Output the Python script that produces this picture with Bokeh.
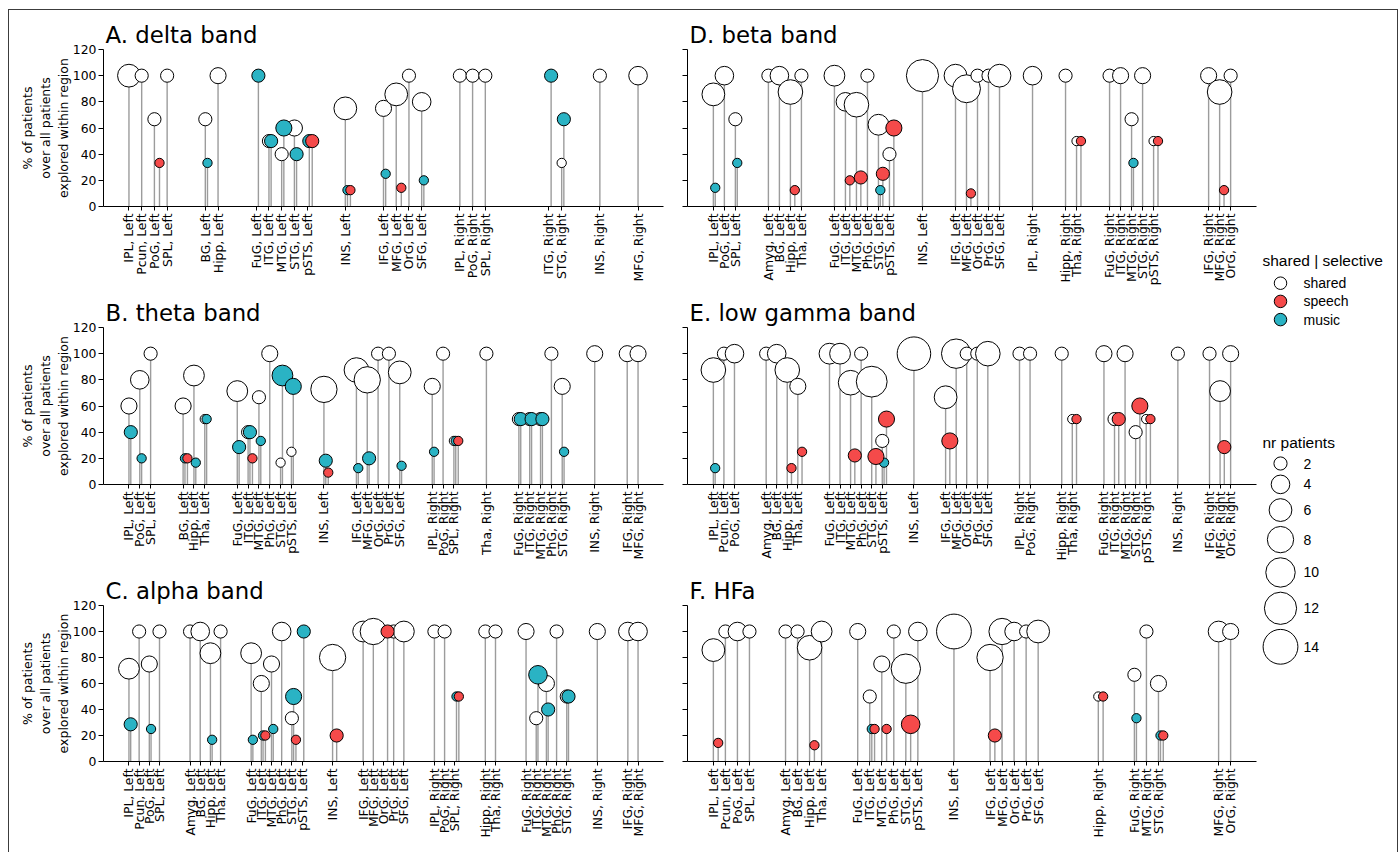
import math
from bokeh.plotting import figure
from bokeh.layouts import row, column
from bokeh.models import FixedTicker, Range1d, ColumnDataSource
from bokeh.embed import file_html
from bokeh.resources import INLINE
from bokeh.core.properties import value

# ---------------- data ----------------
LOBES = [
    ["IPL", "Pcun", "PoG", "SPL"],
    ["Amyg", "BG", "Hipp", "Tha"],
    ["FuG", "ITG", "MTG", "PhG", "STG", "pSTS"],
    ["INS"],
    ["IFG", "MFG", "OrG", "PrG", "SFG"],
]
HEMIS = ["Left", "Right"]

SERIES = ["shared", "speech", "music"]
COLORS = {"shared": "#ffffff", "speech": "#f54a4a", "music": "#2ab3c4"}
OFFSETS = {"shared": 0.0, "music": 0.17, "speech": 0.4}
DRAW_ORDER = ["shared", "music", "speech"]
LEGEND_SIZES = [2, 4, 6, 8, 10, 12, 14]
Y_TICKS = [0, 20, 40, 60, 80, 100, 120]
Y_LABEL = "% of patients\nover all patients\nexplored within region"

# (region, % of patients, nr patients)
delta_shared = [
    ("IPL, Left", 100, 6), ("Pcun, Left", 100, 2), ("PoG, Left", 66.7, 2), ("SPL, Left", 100, 2),
    ("BG, Left", 66.7, 2), ("Hipp, Left", 100, 3),
    ("ITG, Left", 50, 2), ("MTG, Left", 40, 2), ("STG, Left", 60, 3),
    ("INS, Left", 75, 6),
    ("IFG, Left", 75, 3), ("MFG, Left", 85.7, 6), ("OrG, Left", 100, 2), ("SFG, Left", 80, 4),
    ("IPL, Right", 100, 2), ("PoG, Right", 100, 2), ("SPL, Right", 100, 2),
    ("STG, Right", 33.3, 1), ("INS, Right", 100, 2), ("MFG, Right", 100, 4),
]
delta_speech = [
    ("PoG, Left", 33.3, 1), ("pSTS, Left", 50, 2), ("INS, Left", 12.5, 1), ("MFG, Left", 14.3, 1),
]
delta_music = [
    ("BG, Left", 33.3, 1), ("FuG, Left", 100, 2), ("ITG, Left", 50, 2), ("MTG, Left", 60, 3),
    ("STG, Left", 40, 2), ("pSTS, Left", 50, 2), ("INS, Left", 12.5, 1), ("IFG, Left", 25, 1),
    ("SFG, Left", 20, 1), ("ITG, Right", 100, 2), ("STG, Right", 66.7, 2),
]

theta_shared = [
    ("IPL, Left", 60, 3), ("PoG, Left", 80, 4), ("SPL, Left", 100, 2),
    ("BG, Left", 60, 3), ("Hipp, Left", 83.3, 5), ("Tha, Left", 50, 1),
    ("FuG, Left", 71.4, 5), ("ITG, Left", 40, 2), ("MTG, Left", 66.7, 2), ("PhG, Left", 100, 3),
    ("STG, Left", 16.7, 1), ("pSTS, Left", 25, 1),
    ("INS, Left", 72.7, 8),
    ("IFG, Left", 87.5, 7), ("MFG, Left", 80, 8), ("OrG, Left", 100, 2), ("PrG, Left", 100, 2),
    ("SFG, Left", 85.7, 6),
    ("IPL, Right", 75, 3), ("PoG, Right", 100, 2), ("SPL, Right", 33.3, 1),
    ("Tha, Right", 100, 2),
    ("FuG, Right", 50, 2), ("ITG, Right", 50, 2), ("MTG, Right", 50, 2), ("PhG, Right", 100, 2),
    ("STG, Right", 75, 3),
    ("INS, Right", 100, 3), ("IFG, Right", 100, 3), ("MFG, Right", 100, 3),
]
theta_speech = [
    ("BG, Left", 20, 1), ("ITG, Left", 20, 1), ("INS, Left", 9.1, 1), ("SPL, Right", 33.3, 1),
]
theta_music = [
    ("IPL, Left", 40, 2), ("PoG, Left", 20, 1), ("BG, Left", 20, 1), ("Hipp, Left", 16.7, 1),
    ("Tha, Left", 50, 1), ("FuG, Left", 28.6, 2), ("ITG, Left", 40, 2), ("MTG, Left", 33.3, 1),
    ("STG, Left", 83.3, 5), ("pSTS, Left", 75, 3), ("INS, Left", 18.2, 2), ("IFG, Left", 12.5, 1),
    ("MFG, Left", 20, 2), ("SFG, Left", 14.3, 1), ("IPL, Right", 25, 1), ("SPL, Right", 33.3, 1),
    ("FuG, Right", 50, 2), ("ITG, Right", 50, 2), ("MTG, Right", 50, 2), ("STG, Right", 25, 1),
]

alpha_shared = [
    ("IPL, Left", 71.4, 5), ("Pcun, Left", 100, 2), ("PoG, Left", 75, 3), ("SPL, Left", 100, 2),
    ("Amyg, Left", 100, 2), ("BG, Left", 100, 4), ("Hipp, Left", 83.3, 5), ("Tha, Left", 100, 2),
    ("FuG, Left", 83.3, 5), ("ITG, Left", 60, 3), ("MTG, Left", 75, 3), ("PhG, Left", 100, 4),
    ("STG, Left", 33.3, 2),
    ("INS, Left", 80, 8),
    ("IFG, Left", 100, 5), ("MFG, Left", 100, 8), ("PrG, Left", 100, 2), ("SFG, Left", 100, 5),
    ("IPL, Right", 100, 2), ("PoG, Right", 100, 2),
    ("Hipp, Right", 100, 2), ("Tha, Right", 100, 2),
    ("FuG, Right", 100, 3), ("ITG, Right", 33.3, 2), ("MTG, Right", 60, 3), ("PhG, Right", 100, 2),
    ("STG, Right", 50, 2),
    ("INS, Right", 100, 3), ("IFG, Right", 100, 4), ("MFG, Right", 100, 4),
]
alpha_speech = [
    ("ITG, Left", 20, 1), ("STG, Left", 16.7, 1), ("INS, Left", 20, 2), ("OrG, Left", 100, 2),
    ("SPL, Right", 50, 1),
]
alpha_music = [
    ("IPL, Left", 28.6, 2), ("PoG, Left", 25, 1), ("Hipp, Left", 16.7, 1), ("FuG, Left", 16.7, 1),
    ("ITG, Left", 20, 1), ("MTG, Left", 25, 1), ("STG, Left", 50, 3), ("pSTS, Left", 100, 2),
    ("SPL, Right", 50, 1), ("ITG, Right", 66.7, 4), ("MTG, Right", 40, 2), ("STG, Right", 50, 2),
]

beta_shared = [
    ("IPL, Left", 85.7, 6), ("PoG, Left", 100, 4), ("SPL, Left", 66.7, 2),
    ("Amyg, Left", 100, 2), ("BG, Left", 100, 4), ("Hipp, Left", 87.5, 7), ("Tha, Left", 100, 2),
    ("FuG, Left", 100, 5), ("ITG, Left", 80, 4), ("MTG, Left", 77.8, 7), ("PhG, Left", 100, 2),
    ("STG, Left", 62.5, 5), ("pSTS, Left", 40, 2),
    ("INS, Left", 100, 12),
    ("IFG, Left", 100, 6), ("MFG, Left", 90, 9), ("OrG, Left", 100, 2), ("PrG, Left", 100, 2),
    ("SFG, Left", 100, 6),
    ("IPL, Right", 100, 4),
    ("Hipp, Right", 100, 2), ("Tha, Right", 50, 1),
    ("FuG, Right", 100, 2), ("ITG, Right", 100, 3), ("MTG, Right", 66.7, 2), ("STG, Right", 100, 3),
    ("pSTS, Right", 50, 1),
    ("IFG, Right", 100, 3), ("MFG, Right", 87.5, 7), ("OrG, Right", 100, 2),
]
beta_speech = [
    ("Hipp, Left", 12.5, 1), ("ITG, Left", 20, 1), ("MTG, Left", 22.2, 2), ("STG, Left", 25, 2),
    ("pSTS, Left", 60, 3), ("MFG, Left", 10, 1), ("Tha, Right", 50, 1), ("pSTS, Right", 50, 1),
    ("MFG, Right", 12.5, 1),
]
beta_music = [
    ("IPL, Left", 14.3, 1), ("SPL, Left", 33.3, 1), ("STG, Left", 12.5, 1), ("MTG, Right", 33.3, 1),
]

lowgamma_shared = [
    ("IPL, Left", 87.5, 7), ("Pcun, Left", 100, 2), ("PoG, Left", 100, 4),
    ("Amyg, Left", 100, 2), ("BG, Left", 100, 4), ("Hipp, Left", 87.5, 7), ("Tha, Left", 75, 3),
    ("FuG, Left", 100, 5), ("ITG, Left", 100, 5), ("MTG, Left", 77.8, 7), ("PhG, Left", 100, 2),
    ("STG, Left", 78.6, 11), ("pSTS, Left", 33.3, 2),
    ("INS, Left", 100, 13),
    ("IFG, Left", 66.7, 6), ("MFG, Left", 100, 10), ("OrG, Left", 100, 2), ("PrG, Left", 100, 2),
    ("SFG, Left", 100, 7),
    ("IPL, Right", 100, 2), ("PoG, Right", 100, 2),
    ("Hipp, Right", 100, 2), ("Tha, Right", 50, 1),
    ("FuG, Right", 100, 3), ("ITG, Right", 50, 2), ("MTG, Right", 100, 3), ("STG, Right", 40, 2),
    ("pSTS, Right", 50, 1),
    ("INS, Right", 100, 2),
    ("IFG, Right", 100, 2), ("MFG, Right", 71.4, 5), ("OrG, Right", 100, 3),
]
lowgamma_speech = [
    ("Hipp, Left", 12.5, 1), ("Tha, Left", 25, 1), ("MTG, Left", 22.2, 2), ("STG, Left", 21.4, 3),
    ("pSTS, Left", 50, 3), ("IFG, Left", 33.3, 3), ("Tha, Right", 50, 1), ("ITG, Right", 50, 2),
    ("STG, Right", 60, 3), ("pSTS, Right", 50, 1), ("MFG, Right", 28.6, 2),
]
lowgamma_music = [
    ("IPL, Left", 12.5, 1), ("pSTS, Left", 16.7, 1),
]

hfa_shared = [
    ("IPL, Left", 85.7, 6), ("Pcun, Left", 100, 2), ("PoG, Left", 100, 4), ("SPL, Left", 100, 2),
    ("Amyg, Left", 100, 2), ("BG, Left", 100, 2), ("Hipp, Left", 87.5, 7), ("Tha, Left", 100, 5),
    ("FuG, Left", 100, 3), ("ITG, Left", 50, 2), ("MTG, Left", 75, 3), ("PhG, Left", 100, 2),
    ("STG, Left", 71.4, 10), ("pSTS, Left", 100, 4),
    ("INS, Left", 100, 14),
    ("IFG, Left", 80, 8), ("MFG, Left", 100, 8), ("OrG, Left", 100, 4), ("PrG, Left", 100, 2),
    ("SFG, Left", 100, 6),
    ("Hipp, Right", 50, 1),
    ("FuG, Right", 66.7, 2), ("MTG, Right", 100, 2), ("STG, Right", 60, 3),
    ("MFG, Right", 100, 5), ("OrG, Right", 100, 3),
]
hfa_speech = [
    ("IPL, Left", 14.3, 1), ("Hipp, Left", 12.5, 1), ("ITG, Left", 25, 1), ("MTG, Left", 25, 1),
    ("STG, Left", 28.6, 4), ("IFG, Left", 20, 2), ("Hipp, Right", 50, 1), ("STG, Right", 20, 1),
]
hfa_music = [
    ("ITG, Left", 25, 1), ("FuG, Right", 33.3, 1), ("STG, Right", 20, 1),
]

# ---------------- style ----------------
SIZE_K = 9.3
STEM_COLOR = "#9c9c9c"
FONT = "DejaVu Sans"
LEGEND_FONT = "Liberation Sans"
LEFT_W, RIGHT_W, LEG_W = 675, 583, 142
ROW_H = [292, 278, 282]
ROW_TOP = [49, 35, 35]
ROW_BOTTOM = [86, 86, 91]


def region_positions(names):
    pos = {}
    p = 0
    for hemi in HEMIS:
        for lobe in LOBES:
            for r in lobe:
                name = f"{r}, {hemi}"
                if name in names:
                    pos[name] = p
                    p += 1
            p += 2
    return pos


def make_panel(title, shared, speech, music, left, r):
    series_data = {"shared": shared, "speech": speech, "music": music}
    names = {reg for data in series_data.values() for reg, _, _ in data}
    pos = region_positions(names)

    sources = {}
    stem_x, stem_y = [], []
    for s in SERIES:
        data = series_data[s]
        x = [pos[reg] + OFFSETS[s] for reg, _, _ in data]
        y = [v for _, v, _ in data]
        size = [SIZE_K * math.sqrt(n) for _, _, n in data]
        sources[s] = ColumnDataSource(dict(x=x, y=y, size=size))
        stem_x += x
        stem_y += y
    xmin, xmax = min(stem_x), max(stem_x)
    pad = 0.05 * (xmax - xmin)

    p = figure(
        width=LEFT_W if left else RIGHT_W, height=ROW_H[r],
        x_range=Range1d(xmin - pad, xmax + pad), y_range=Range1d(0, 120),
        output_backend="svg", toolbar_location=None,
        min_border_left=103 if left else 12, min_border_right=12 if left else 2,
        min_border_top=ROW_TOP[r], min_border_bottom=ROW_BOTTOM[r],
    )
    p.outline_line_color = None
    p.grid.visible = False
    p.background_fill_color = None
    p.border_fill_color = None

    p.segment(x0="x", y0=0, x1="x", y1="y",
              source=ColumnDataSource(dict(x=stem_x, y=stem_y)),
              line_color=STEM_COLOR, line_width=1.4)
    for s in DRAW_ORDER:
        p.scatter(x="x", y="y", size="size", source=sources[s], marker="circle",
                  fill_color=COLORS[s], line_color="black", line_width=1)

    # title
    p.title.text = title
    p.title.text_font = FONT
    p.title.text_font_size = "22.8px"
    p.title.text_font_style = "normal"
    p.title.text_color = "black"
    p.title.align = "left"
    p.title.offset = 2
    p.title.standoff = 3

    # x axis
    xa = p.xaxis[0]
    xa.ticker = FixedTicker(ticks=sorted(pos.values()))
    xa.major_label_overrides = {v: k for k, v in pos.items()}
    xa.major_label_orientation = math.pi / 2
    xa.major_label_text_font = FONT
    xa.major_label_text_font_size = "12.4px"
    xa.major_label_text_color = "black"
    xa.major_label_standoff = 3
    xa.major_tick_out = 4
    xa.major_tick_in = 0
    xa.minor_tick_line_color = None
    xa.axis_line_color = "black"
    xa.major_tick_line_color = "black"

    # y axis
    ya = p.yaxis[0]
    ya.ticker = FixedTicker(ticks=Y_TICKS)
    ya.major_tick_out = 5
    ya.major_tick_in = 0
    ya.minor_tick_line_color = None
    ya.axis_line_color = "black"
    ya.major_tick_line_color = "black"
    ya.major_label_text_font = FONT
    ya.major_label_text_font_size = "12.4px"
    ya.major_label_text_color = "black"
    ya.major_label_standoff = 2
    if left:
        ya.axis_label = Y_LABEL
        ya.axis_label_text_font = FONT
        ya.axis_label_text_font_size = "12.5px"
        ya.axis_label_text_font_style = "normal"
        ya.axis_label_text_color = "black"
        ya.axis_label_standoff = -1
    else:
        ya.major_label_overrides = {t: "" for t in Y_TICKS}
    return p


def make_legend():
    H = sum(ROW_H)
    lg = figure(width=LEG_W, height=H,
                x_range=Range1d(0, LEG_W), y_range=Range1d(H, 0),
                output_backend="svg", toolbar_location=None,
                x_axis_location=None, y_axis_location=None, min_border=0)
    lg.outline_line_color = None
    lg.grid.visible = False
    lg.background_fill_color = None
    lg.border_fill_color = None

    mx, tx, title_x = 22, 45, 4
    # colour legend
    lg.text(x=[title_x], y=[260], text=["shared | selective"], text_baseline="middle",
            text_font=value(LEGEND_FONT), text_font_size="15.5px", text_color="black")
    cy = [282.7 + 18.2 * i for i in range(len(SERIES))]
    lg.scatter(x=[mx] * len(SERIES), y=cy, size=12.5, marker="circle",
               fill_color=[COLORS[s] for s in SERIES], line_color="black", line_width=1)
    lg.text(x=[tx] * len(SERIES), y=cy, text=SERIES, text_baseline="middle",
            text_font=value(LEGEND_FONT), text_font_size="14px", text_color="black")

    # size legend
    lg.text(x=[title_x], y=[442], text=["nr patients"], text_baseline="middle",
            text_font=value(LEGEND_FONT), text_font_size="15.5px", text_color="black")
    d = [SIZE_K * math.sqrt(n) for n in LEGEND_SIZES]
    sy = [463.0]
    for i in range(1, len(d)):
        sy.append(sy[-1] + (d[i - 1] + d[i]) / 2 + 5)
    lg.scatter(x=[mx] * len(d), y=sy, size=d, marker="circle",
               fill_color="white", line_color="black", line_width=1)
    lg.text(x=[tx] * len(d), y=sy, text=[str(n) for n in LEGEND_SIZES], text_baseline="middle",
            text_font=value(LEGEND_FONT), text_font_size="14px", text_color="black")
    return lg


pA = make_panel("A. delta band", delta_shared, delta_speech, delta_music, True, 0)
pB = make_panel("B. theta band", theta_shared, theta_speech, theta_music, True, 1)
pC = make_panel("C. alpha band", alpha_shared, alpha_speech, alpha_music, True, 2)
pD = make_panel("D. beta band", beta_shared, beta_speech, beta_music, False, 0)
pE = make_panel("E. low gamma band", lowgamma_shared, lowgamma_speech, lowgamma_music, False, 1)
pF = make_panel("F. HFa", hfa_shared, hfa_speech, hfa_music, False, 2)
leg = make_legend()

frame_css = {
    "background-color": "white",
    "background-image": "linear-gradient(#3c3c3c,#3c3c3c), linear-gradient(#3c3c3c,#3c3c3c), "
                        "linear-gradient(#3c3c3c,#3c3c3c)",
    "background-size": "1px 843px, 1390px 1px, 1px 843px",
    "background-position": "8px 9px, 8px 9px, 1397px 9px",
    "background-repeat": "no-repeat",
}
layout = row(column(pA, pB, pC), column(pD, pE, pF), leg, styles=frame_css)
open("out.html", "w").write(file_html(layout, INLINE))
